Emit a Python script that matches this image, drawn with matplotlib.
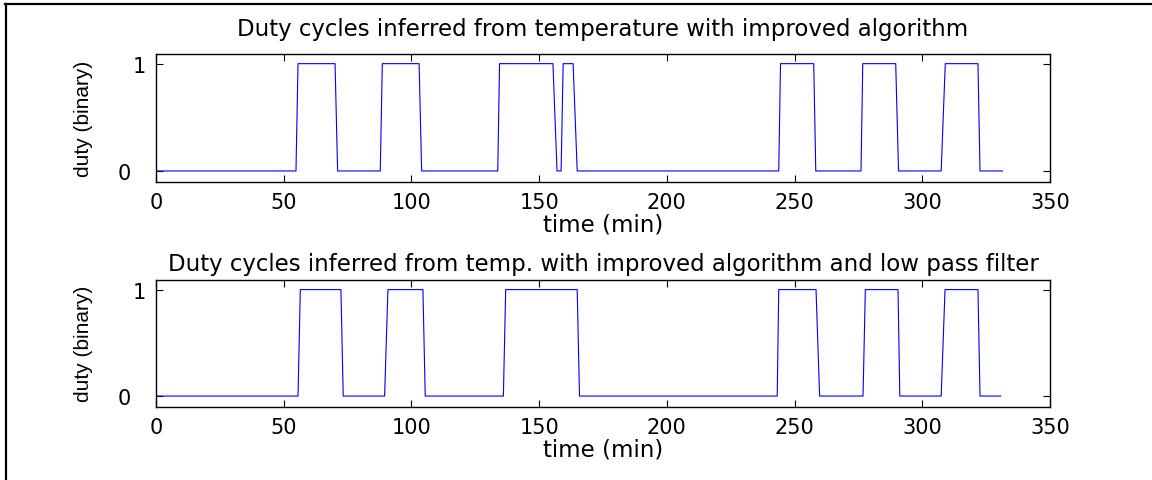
import matplotlib
matplotlib.use("Agg")
import matplotlib.pyplot as plt
import matplotlib.transforms as mtransforms
from matplotlib.lines import Line2D

# ---- data ----
top_time = [0, 54.8, 55.6, 70.1, 71.1, 87.8, 88.6, 103.0, 104.0, 133.8, 134.5,
            155.4, 157.0, 158.6, 159.4, 163.3, 164.9, 243.8, 244.5, 257.5, 258.3,
            276.0, 276.7, 289.6, 290.7, 307.4, 309.0, 321.8, 322.6, 331.4]
top_duty = [0, 0, 1, 1, 0, 0, 1, 1, 0, 0, 1,
            1, 0, 0, 1, 1, 0, 0, 1, 1, 0,
            0, 1, 1, 0, 0, 1, 1, 0, 0]

bot_time = [0, 55.6, 56.5, 72.4, 73.3, 89.5, 90.8, 104.5, 105.4, 136.0, 136.9,
            164.9, 165.8, 243.2, 243.8, 258.4, 259.8, 276.8, 277.7, 290.5, 291.2,
            307.4, 308.9, 321.8, 322.6, 330.7]
bot_duty = [0, 0, 1, 1, 0, 0, 1, 1, 0, 0, 1,
            1, 0, 0, 1, 1, 0, 0, 1, 1, 0,
            0, 1, 1, 0, 0]

top_title = "Duty cycles inferred from temperature with improved algorithm"
bot_title = "Duty cycles inferred from temp. with improved algorithm and low pass filter"
x_label = "time (min)"
y_label = "duty (binary)"
x_ticks = [0, 50, 100, 150, 200, 250, 300, 350]
y_ticks = [0, 1]

plt.rcParams['font.family'] = ['DejaVu Sans']
FS_TICK = 15
FS_TEXT = 16.5

fig = plt.figure(figsize=(11.52, 4.81), dpi=100)
W, H = 1152, 481

def px_axes(l, r, t, b):
    return fig.add_axes([l / W, 1 - b / H, (r - l) / W, (b - t) / H])

ax1 = px_axes(156, 1050, 55, 182.7)
ax2 = px_axes(156, 1050, 281, 407.7)

for ax, t, d, title, tpad in [(ax1, top_time, top_duty, top_title, 14),
                              (ax2, bot_time, bot_duty, bot_title, 7.5)]:
    ax.plot(t, d, color=(0, 0, 1), lw=0.8)
    ax.set_xlim(0, 350)
    ax.set_ylim(-0.1, 1.09)
    ax.set_xticks(x_ticks)
    ax.set_yticks(y_ticks)
    ax.tick_params(direction='in', top=True, right=True, length=5, width=0.8,
                   labelsize=FS_TICK, colors='black')
    ax.tick_params(axis='x', pad=7.5)
    ax.tick_params(axis='y', pad=18)
    for s in ax.spines.values():
        s.set_linewidth(1.0)
    ax.set_title(title, fontsize=FS_TEXT, pad=tpad)
    ax.set_xlabel(x_label, fontsize=FS_TEXT, labelpad=0)
    ax.set_ylabel(y_label, fontsize=15, labelpad=18,
                  family=['Liberation Sans', 'DejaVu Sans'])
    # the "1" label sits further right in the reference
    ticks = ax.yaxis.get_major_ticks()
    off = mtransforms.ScaledTranslation(15 / 100, 0, fig.dpi_scale_trans)
    ticks[1].label1.set_transform(ticks[1].label1.get_transform() + off)

# outer frame (top and left edges)
fig.add_artist(Line2D([5 / W, 1], [1 - 5 / H, 1 - 5 / H], transform=fig.transFigure,
                      color='black', lw=1.6))
fig.add_artist(Line2D([6 / W, 6 / W], [0, 1 - 5 / H], transform=fig.transFigure,
                      color='black', lw=1.6))

fig.savefig("out.png", dpi=100, facecolor='white')
